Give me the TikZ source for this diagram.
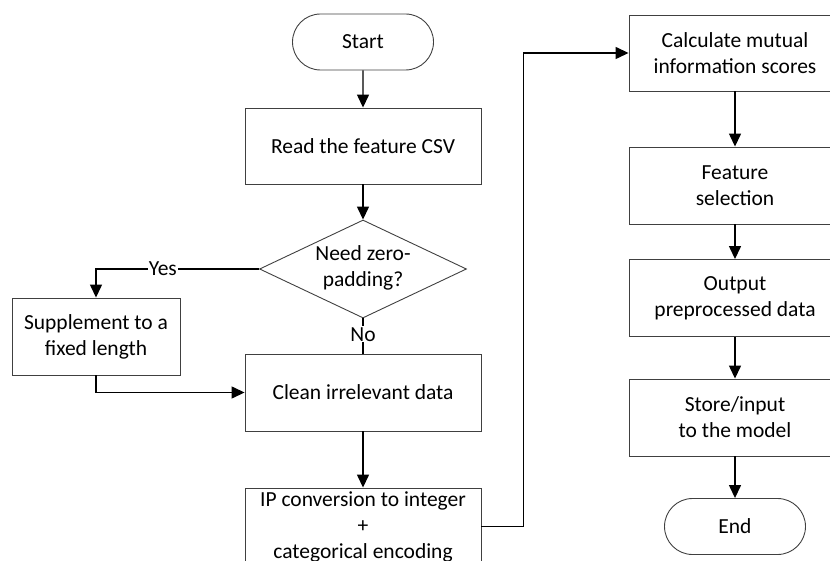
\documentclass[tikz,border=0pt]{standalone}
\usepackage{fontspec}
\setmainfont{Carlito}
\usetikzlibrary{arrows.meta,shapes.geometric,shapes.misc}
\newcommand{\fsz}{\fontsize{21.5}{26}\selectfont}
\tikzset{
  box/.style={draw=black!75, line width=0.9pt, minimum width=236pt, minimum height=77pt, align=center, font=\fsz, inner sep=0pt},
  term/.style={draw=black!75, line width=0.9pt, rounded rectangle, minimum width=141pt, minimum height=56pt, font=\fsz, inner sep=0pt},
  arr/.style={-{Triangle[width=12pt,length=13pt]}, line width=1.4pt},
  plain/.style={line width=1.4pt},
  lbl/.style={fill=white, font=\fsz, inner sep=1pt}
}
\begin{document}
\begin{tikzpicture}[x=1pt,y=-1pt]
\useasboundingbox (0,0) rectangle (830,561);
\clip (0,0) rectangle (830,561);
\node[term] (start) at (363,42) {Start};
\node[box, minimum height=76pt] (read) at (363,146) {Read the feature CSV};
\node[draw=black!75, line width=0.9pt, shape=diamond, minimum width=207pt, minimum height=98pt, inner sep=0pt] (dec) at (363,269) {};
\node[font=\fsz, align=center] (dectext) at (363,268) {Need zero-\\padding?};
\node[box, minimum width=168pt] (sup) at (96,336.5) {Supplement to a\\fixed length};
\node[box] (clean) at (363,392.5) {Clean irrelevant data};
\node[box] (ip) at (363,526.5) {IP conversion to integer\\+\\categorical encoding};
\node[box, minimum width=212pt, minimum height=76pt] (calc) at (735,53) {Calculate mutual\\information scores};
\node[box, minimum width=212pt] (feat) at (735,185.5) {Feature\\selection};
\node[box, minimum width=212pt] (out) at (735,298) {Output\\preprocessed data};
\node[box, minimum width=212pt] (store) at (735,417.5) {Store/input\\to the model};
\node[term] (end) at (735,526.5) {End};

\draw[arr] (start) -- (read);
\draw[arr] (read) -- (dec.north);
\draw[arr] (dec.west) -| node[lbl, pos=0.295] {Yes} (sup.north);
\draw[plain] (dec.south) -- node[lbl, pos=0.45] {No} (clean.north);
\draw[arr] (sup.south) |- (clean.west);
\draw[arr] (clean) -- (ip);
\draw[arr] (ip.east) -- ++(42,0) |- (calc.west);
\draw[arr] (calc) -- (feat);
\draw[arr] (feat) -- (out);
\draw[arr] (out) -- (store);
\draw[arr] (store) -- (end);
\end{tikzpicture}
\end{document}
